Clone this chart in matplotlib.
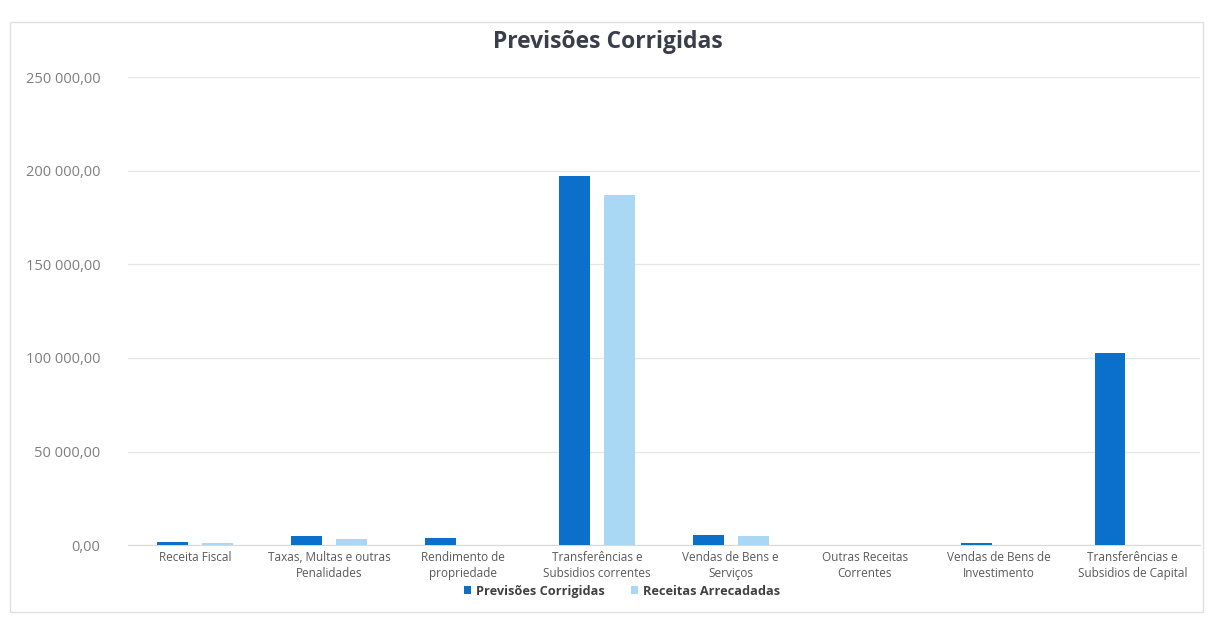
import numpy as np
import matplotlib.pyplot as plt
from matplotlib.patches import Rectangle
from matplotlib.ticker import FuncFormatter

# Data
categories = ['Receita Fiscal', 'Taxas, Multas e outras\nPenalidades', 'Rendimento de\npropriedade',
              'Transferências e\nSubsidios correntes', 'Vendas de Bens e\nServiços',
              'Outras Receitas\nCorrentes', 'Vendas de Bens de\nInvestimento',
              'Transferências e\nSubsidios de Capital']
previsoes = [1700, 4800, 3800, 197000, 5300, 0, 1000, 102500]
arrecadadas = [1000, 3000, 0, 187000, 4600, 0, 0, 0]
y_ticks = [0, 50000, 100000, 150000, 200000, 250000]

dark_blue = '#0B6FCC'
light_blue = '#A8D8F4'
text_gray = '#595959'

plt.rcParams['font.family'] = ['Open Sans', 'DejaVu Sans']

fig = plt.figure(figsize=(12.08, 6.18), dpi=100)
ax = fig.add_axes([0.106, 0.118, 0.887, 0.757])

x = np.arange(len(categories))
w = 0.23
ax.bar(x - 0.168, previsoes, w, color=dark_blue, label='Previsões Corrigidas', zorder=3)
ax.bar(x + 0.168, arrecadadas, w, color=light_blue, label='Receitas Arrecadadas', zorder=3)

ax.set_xlim(-0.5, len(categories) - 0.5)
ax.set_ylim(0, 250000)
ax.set_yticks(y_ticks)
ax.yaxis.set_major_formatter(FuncFormatter(lambda v, p: f'{v:,.2f}'.replace(',', ' ').replace('.', ',')))
ax.set_xticks(x)
ax.set_xticklabels(categories, fontsize=8.5, color=text_gray, linespacing=1.3)
ax.tick_params(axis='y', labelsize=10.5, colors='#7f7f7f', length=0, pad=20)
ax.tick_params(axis='x', length=0, pad=4)
ax.grid(axis='y', color='#e6e6e6', linewidth=0.9, zorder=0)
for s in ['top', 'right', 'left']:
    ax.spines[s].set_visible(False)
ax.spines['bottom'].set_color('#d9d9d9')

fig.text(0.503, 0.932, 'Previsões Corrigidas', ha='center', va='center',
         fontsize=16.5, fontweight='bold', color='#3a3d4a')

fig.legend(loc='center', bbox_to_anchor=(0.515, 0.043), ncol=2, frameon=False,
           handlelength=0.6, handleheight=0.6, columnspacing=2.0,
           handletextpad=0.4, labelcolor='#404040', prop={'weight': 'bold', 'size': 9.2})

# light frame around the chart
fig.patches.append(Rectangle((0.008, 0.01), 0.988, 0.955, transform=fig.transFigure,
                             fill=False, edgecolor='#e0e0e0', linewidth=1))

fig.savefig('out.png', dpi=100, facecolor='white')
